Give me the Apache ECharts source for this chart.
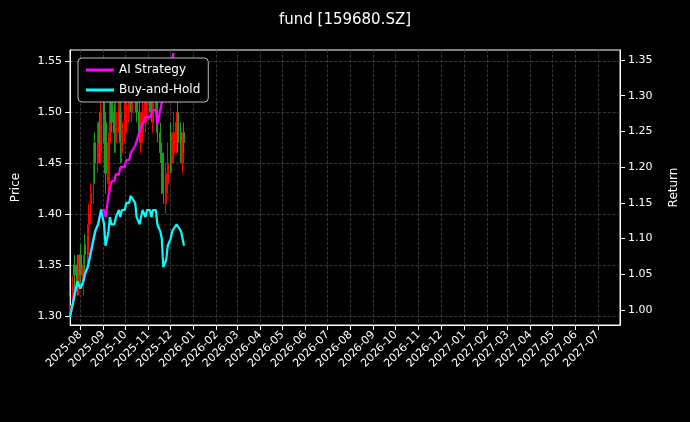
<!DOCTYPE html>
<html>
<head>
<meta charset="utf-8">
<script src="https://cdn.jsdelivr.net/npm/echarts@6/dist/echarts.min.js"></script>
<style>html,body{margin:0;background:#000;}#c{width:690px;height:422px;}</style>
</head>
<body>
<div id="c"></div>
<script>
// values, one point every 2 trading days
const opens = [
  1.30,1.32,1.35,1.35,1.33,1.36,1.33,1.37,1.36,
  1.39,1.41,1.43,1.47,1.45,1.49,1.46,1.51,1.49,1.43,
  1.47,1.51,1.50,1.47,1.49,1.50,1.46,1.48,1.49,
  1.50,1.53,1.50,1.54,1.52,1.50,1.47,1.48,1.49,
  1.50,1.53,1.52,1.49,1.51,1.51,1.48,1.46,1.45,
  1.41,1.43,1.47,1.45,1.46,1.47,1.50,1.48,1.45,1.48];
const closes = [
  1.31,1.33,1.34,1.33,1.35,1.34,1.35,1.36,1.38,
  1.40,1.42,1.46,1.45,1.48,1.47,1.50,1.49,1.44,1.47,
  1.50,1.49,1.48,1.50,1.51,1.47,1.49,1.50,1.51,
  1.52,1.51,1.53,1.52,1.50,1.48,1.49,1.50,1.51,
  1.52,1.51,1.50,1.52,1.53,1.48,1.46,1.44,1.42,
  1.44,1.45,1.46,1.47,1.48,1.49,1.47,1.46,1.47,1.47];
const lows = [
  1.29,1.31,1.32,1.32,1.32,1.33,1.32,1.34,1.35,
  1.37,1.39,1.41,1.43,1.44,1.45,1.45,1.47,1.42,1.42,
  1.45,1.48,1.46,1.46,1.48,1.45,1.45,1.47,1.48,
  1.49,1.50,1.49,1.51,1.49,1.47,1.46,1.47,1.48,
  1.49,1.50,1.49,1.48,1.50,1.47,1.45,1.42,1.41,
  1.40,1.42,1.44,1.44,1.45,1.46,1.46,1.45,1.44,1.46];
const highs = [
  1.32,1.34,1.36,1.36,1.36,1.37,1.36,1.38,1.39,
  1.41,1.43,1.47,1.48,1.49,1.50,1.51,1.53,1.50,1.48,
  1.52,1.53,1.51,1.51,1.53,1.51,1.50,1.51,1.53,
  1.54,1.55,1.54,1.55,1.54,1.51,1.50,1.52,1.53,
  1.54,1.55,1.53,1.53,1.55,1.52,1.49,1.47,1.46,
  1.45,1.47,1.49,1.48,1.50,1.50,1.51,1.49,1.48,1.49];
const buyHold = [
  0.99,1.01,1.02,1.04,1.04,1.03,1.04,1.05,1.06,
  1.07,1.08,1.10,1.11,1.12,1.13,1.14,1.12,1.09,1.11,
  1.13,1.12,1.12,1.13,1.14,1.13,1.14,1.14,1.15,
  1.15,1.16,1.16,1.15,1.13,1.12,1.13,1.14,1.13,
  1.14,1.14,1.13,1.14,1.14,1.12,1.11,1.10,1.06,
  1.07,1.09,1.10,1.11,1.11,1.12,1.12,1.11,1.10,1.09];
const aiStrategy = [
  0.99,1.01,1.02,1.04,1.04,1.03,1.04,1.05,1.06,
  1.07,1.08,1.10,1.11,1.12,1.13,1.14,1.14,1.13,1.16,
  1.17,1.18,1.18,1.19,1.19,1.20,1.20,1.20,1.21,
  1.21,1.22,1.22,1.23,1.23,1.25,1.25,1.26,1.27,
  1.27,1.27,1.27,1.28,1.28,1.26,1.28,1.29,1.30,
  1.31,1.33,1.34,1.35,1.36];
const monthTicks = ['2025-08','2025-09','2025-10','2025-11','2025-12','2026-01','2026-02','2026-03',
  '2026-04','2026-05','2026-06','2026-07','2026-08','2026-09','2026-10','2026-11','2026-12',
  '2027-01','2027-02','2027-03','2027-04','2027-05','2027-06','2027-07'];
const priceTicks = [1.30, 1.35, 1.40, 1.45, 1.50, 1.55];
const returnTicks = [1.00, 1.05, 1.10, 1.15, 1.20, 1.25, 1.30, 1.35];

// trading days, step 2
const dates = [];
let d = new Date(Date.UTC(2025, 6, 18)), n = 0;
while (dates.length < closes.length) {
  const wd = d.getUTCDay();
  if (wd !== 0 && wd !== 6) { if (n % 2 === 0) dates.push(d.getTime()); n++; }
  d = new Date(d.getTime() + 86400000);
}
const candles = dates.map((t, i) => [t, opens[i], closes[i], lows[i], highs[i]]);
const bh = dates.map((t, i) => [t, buyHold[i]]);
const ai = aiStrategy.map((v, i) => [dates[i], v]);
const monthVals = monthTicks.map(s => Date.UTC(+s.slice(0, 4), +s.slice(5) - 1, 1));

const txt = '#fff';
const grid = {show: true, lineStyle: {color: '#444', type: 'dashed', width: 0.8}};
const chart = echarts.init(document.getElementById('c'));
chart.setOption({
  backgroundColor: '#000',
  animation: false,
  title: {text: 'fund [159680.SZ]', left: 'center', top: 8,
    textStyle: {color: txt, fontSize: 15, fontWeight: 'normal', fontFamily: 'DejaVu Sans'}},
  legend: {
    orient: 'vertical', left: 78, top: 58, padding: [6, 8],
    backgroundColor: '#000', borderColor: '#bbb', borderWidth: 1, borderRadius: 4,
    itemWidth: 28, itemHeight: 3, itemGap: 8, icon: 'rect',
    textStyle: {color: txt, fontSize: 12, fontFamily: 'DejaVu Sans'},
    data: ['AI Strategy', 'Buy-and-Hold']
  },
  grid: {left: 70, right: 70, top: 50, bottom: 97, show: true, borderColor: '#fff', borderWidth: 1},
  xAxis: {
    type: 'value', min: Date.UTC(2025, 6, 18), max: Date.UTC(2027, 6, 31),
    axisLine: {lineStyle: {color: '#fff'}},
    axisTick: {show: true, customValues: monthVals, lineStyle: {color: '#fff'}},
    axisLabel: {customValues: monthVals, rotate: 45, color: txt, fontSize: 11, fontFamily: 'DejaVu Sans',
      formatter: v => { const t = new Date(v); return t.getUTCFullYear() + '-' + String(t.getUTCMonth() + 1).padStart(2, '0'); }},
    splitLine: grid
  },
  yAxis: [
    {type: 'value', name: 'Price', nameLocation: 'middle', nameGap: 48, nameRotate: 90,
      nameTextStyle: {color: txt, fontSize: 12, fontFamily: 'DejaVu Sans'},
      min: 1.291, max: 1.561, position: 'left',
      axisLine: {show: true, lineStyle: {color: '#fff'}},
      axisTick: {show: true, customValues: priceTicks},
      axisLabel: {customValues: priceTicks, color: txt, fontSize: 11, fontFamily: 'DejaVu Sans', formatter: v => v.toFixed(2)},
      splitLine: grid},
    {type: 'value', name: 'Return', nameLocation: 'middle', nameGap: 48, nameRotate: 90,
      nameTextStyle: {color: txt, fontSize: 12, fontFamily: 'DejaVu Sans'},
      min: 0.979, max: 1.364, position: 'right',
      axisLine: {show: true, lineStyle: {color: '#fff'}},
      axisTick: {show: true, customValues: returnTicks},
      axisLabel: {customValues: returnTicks, color: txt, fontSize: 11, fontFamily: 'DejaVu Sans', formatter: v => v.toFixed(2)},
      splitLine: {show: false}}
  ],
  series: [
    {type: 'candlestick', yAxisIndex: 0, data: candles, barWidth: 1.8,
      itemStyle: {color: '#ff0000', color0: '#1e9b1e', borderColor: '#ff0000', borderColor0: '#1e9b1e', borderWidth: 1}},
    {name: 'AI Strategy', type: 'line', yAxisIndex: 1, data: ai, showSymbol: false,
      lineStyle: {color: '#ff00ff', width: 2.2}, itemStyle: {color: '#ff00ff'}},
    {name: 'Buy-and-Hold', type: 'line', yAxisIndex: 1, data: bh, showSymbol: false,
      lineStyle: {color: '#00ffff', width: 2.2}, itemStyle: {color: '#00ffff'}}
  ]
});
</script>
</body>
</html>
